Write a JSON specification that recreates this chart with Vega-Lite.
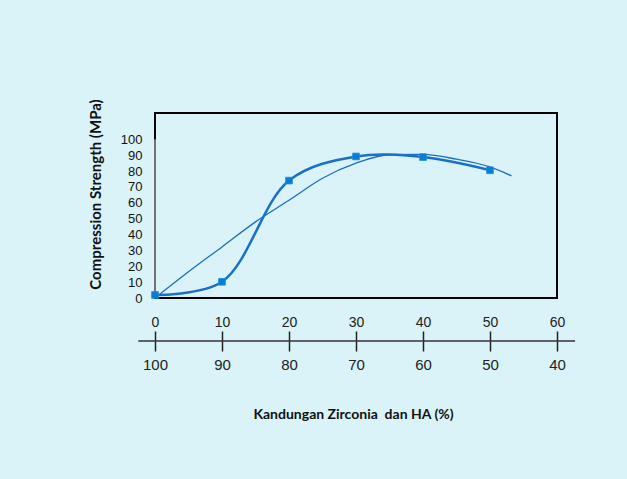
{
  "$schema": "https://vega.github.io/schema/vega-lite/v6.json",
  "width": 402,
  "height": 185,
  "autosize": "none",
  "padding": {"left": 155, "top": 113, "right": 70, "bottom": 181},
  "background": "#daf3f8",
  "config": {
    "view": {"stroke": "#000000", "strokeWidth": 2},
    "font": "Lato"
  },
  "datasets": {
    "measured": [
      {"zirconia": 0, "strength": 1.9},
      {"zirconia": 10, "strength": 10.2},
      {"zirconia": 20, "strength": 74},
      {"zirconia": 30, "strength": 89.2},
      {"zirconia": 40, "strength": 88.8},
      {"zirconia": 50, "strength": 80.5}
    ],
    "trend": [
      {"zirconia": 0, "strength": 0},
      {"zirconia": 5, "strength": 16.5},
      {"zirconia": 10, "strength": 32.2},
      {"zirconia": 15, "strength": 48},
      {"zirconia": 20, "strength": 61.6},
      {"zirconia": 25, "strength": 75.5},
      {"zirconia": 30, "strength": 85},
      {"zirconia": 35, "strength": 90.3},
      {"zirconia": 40, "strength": 90.5},
      {"zirconia": 45, "strength": 87.5},
      {"zirconia": 50, "strength": 82.6},
      {"zirconia": 53.2, "strength": 77}
    ],
    "yline": [{"zirconia": 0, "strength": 0, "strength2": 100}],
    "xline": [{"zirconia": -2.5, "zirconia2": 62.7, "strength": -27.1}]
  },
  "layer": [
    {
      "data": {"name": "yline"},
      "mark": {"type": "rule", "color": "#9a9a9a", "strokeWidth": 1.5},
      "encoding": {
        "x": {"field": "zirconia", "type": "quantitative", "scale": {"domain": [0, 60], "nice": false, "zero": false}, "axis": null},
        "y": {"field": "strength", "type": "quantitative", "scale": {"domain": [0, 116.6], "nice": false}, "axis": null},
        "y2": {"field": "strength2"}
      }
    },
    {
      "data": {"name": "xline"},
      "mark": {"type": "rule", "color": "#333333", "strokeWidth": 1.5},
      "encoding": {
        "x": {"field": "zirconia", "type": "quantitative", "axis": null},
        "x2": {"field": "zirconia2"},
        "y": {"field": "strength", "type": "quantitative", "axis": null}
      }
    },
    {
      "data": {"name": "trend"},
      "mark": {"type": "line", "interpolate": "monotone", "color": "#1a6fc2", "strokeWidth": 1.3},
      "encoding": {
        "x": {
          "field": "zirconia", "type": "quantitative",
          "axis": {
            "orient": "bottom", "offset": 43, "values": [0, 10, 20, 30, 40, 50, 60],
            "domain": false, "grid": false, "tickSize": 10, "tickColor": "#222222", "tickWidth": 1.5,
            "labelExpr": "100 - datum.value", "labelFont": "Liberation Sans", "labelFontSize": 15,
            "labelColor": "#222222", "labelPadding": 6, "labelFlush": false, "labelOverlap": false,
            "title": "Kandungan Zirconia\u00a0 dan HA (%)", "titleFont": "Lato", "titleFontSize": 14,
            "titleFontWeight": "bold", "titleColor": "#111111", "titleX": 198, "titleY": 73,
            "titleAlign": "center", "titleBaseline": "middle"
          }
        },
        "y": {
          "field": "strength", "type": "quantitative",
          "axis": {
            "values": [0, 10, 20, 30, 40, 50, 60, 70, 80, 90, 100],
            "domain": false, "ticks": false, "grid": false, "labelPadding": 13,
            "labelFont": "Liberation Sans", "labelFontSize": 13, "labelColor": "#111111",
            "labelOverlap": false, "labelFlush": false,
            "title": "Compression Strength (MPa)", "titleFont": "Lato", "titleFontSize": 15,
            "titleFontWeight": "bold", "titleColor": "#111111", "titleX": -60, "titleY": 81,
            "titleAngle": -90, "titleAlign": "center", "titleBaseline": "middle"
          }
        }
      }
    },
    {
      "data": {"name": "measured"},
      "mark": {"type": "line", "interpolate": "catmull-rom", "color": "#1a70c8", "strokeWidth": 2.5},
      "encoding": {
        "x": {
          "field": "zirconia", "type": "quantitative",
          "axis": {
            "orient": "top", "offset": -228, "values": [0, 10, 20, 30, 40, 50, 60],
            "domain": false, "grid": false, "tickSize": 10, "tickColor": "#222222", "tickWidth": 1.5,
            "labelFont": "Liberation Sans", "labelFontSize": 14, "labelColor": "#222222",
            "labelPadding": 2, "labelFlush": false, "labelOverlap": false, "title": null
          }
        },
        "y": {"field": "strength", "type": "quantitative", "axis": null}
      }
    },
    {
      "data": {"name": "measured"},
      "mark": {"type": "square", "color": "#0b7bd3", "opacity": 1, "size": 45, "stroke": "#1890e0", "strokeWidth": 0.8},
      "encoding": {
        "x": {"field": "zirconia", "type": "quantitative", "axis": null},
        "y": {"field": "strength", "type": "quantitative", "axis": null}
      }
    }
  ],
  "resolve": {"axis": {"x": "independent", "y": "independent"}}
}
